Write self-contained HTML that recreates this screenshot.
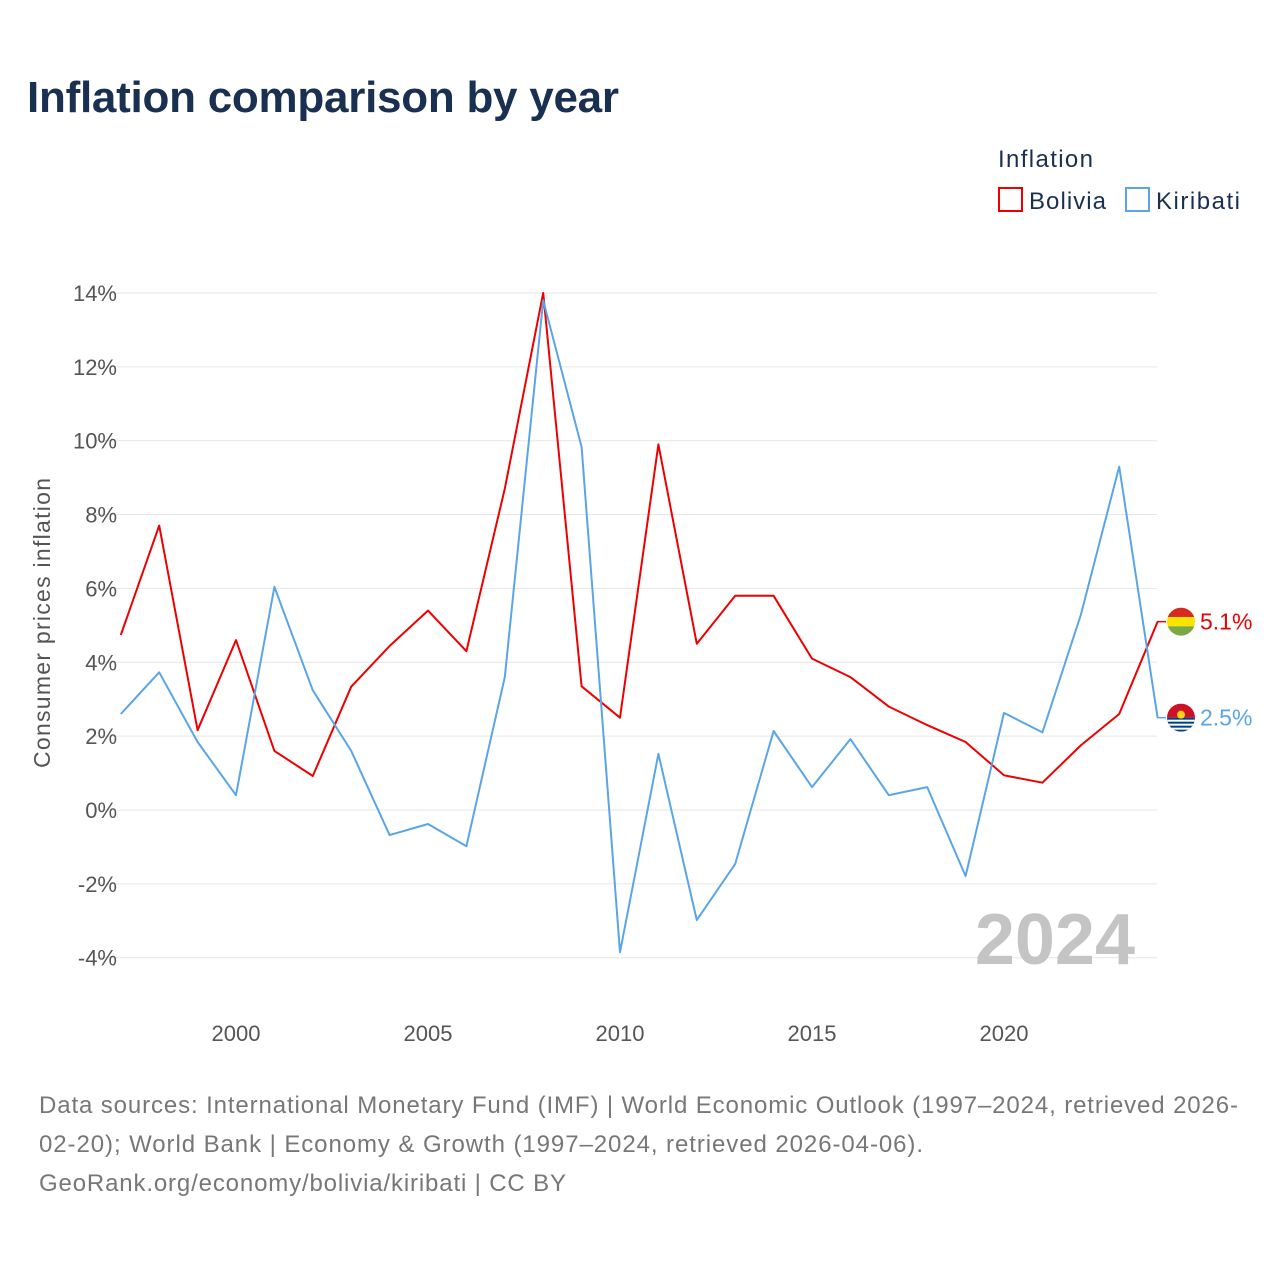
<!DOCTYPE html>
<html><head><meta charset="utf-8"><style>
body{margin:0;background:#fff;font-family:"Liberation Sans",sans-serif;}
</style></head><body>
<svg id="chart" width="1280" height="1280" xmlns="http://www.w3.org/2000/svg">
<text x="27" y="112" font-size="44" font-weight="bold" fill="#1a3050" textLength="592">Inflation comparison by year</text>
<g>
<text x="998" y="167" font-size="24" fill="#1a3050" textLength="95">Inflation</text>
<g><rect x="999" y="188" width="23" height="23" fill="none" stroke="#ee0000" stroke-width="2"/><text x="1029" y="209" font-size="24" fill="#1a3050" textLength="77">Bolivia</text></g>
<g><rect x="1126" y="188" width="23" height="23" fill="none" stroke="#5aa5e8" stroke-width="2"/><text x="1156" y="209" font-size="24" fill="#1a3050" textLength="84">Kiribati</text></g>
</g>
<g id="grid"></g>
<g id="yticks"></g>
<g id="xticks"></g>
<text transform="translate(50,623) rotate(-90)" text-anchor="middle" font-size="23" fill="#555" textLength="290">Consumer prices inflation</text>
<text x="1135" y="964" text-anchor="end" font-size="72" font-weight="bold" fill="#c4c4c4">2024</text>
<g id="series"></g>
<g font-size="24" fill="#777">
<text x="39" y="1113" textLength="1199">Data sources: International Monetary Fund (IMF) | World Economic Outlook (1997–2024, retrieved 2026-</text>
<text x="39" y="1152" textLength="884">02-20); World Bank | Economy &amp; Growth (1997–2024, retrieved 2026-04-06).</text>
<text x="39" y="1191" textLength="527">GeoRank.org/economy/bolivia/kiribati | CC BY</text>
</g>
</svg>
<script>
const years=[1997,1998,1999,2000,2001,2002,2003,2004,2005,2006,2007,2008,2009,2010,2011,2012,2013,2014,2015,2016,2017,2018,2019,2020,2021,2022,2023,2024];
const bolivia=[4.74,7.7,2.16,4.6,1.6,0.92,3.34,4.44,5.4,4.3,8.7,14.0,3.35,2.5,9.9,4.5,5.8,5.8,4.1,3.6,2.8,2.3,1.84,0.94,0.74,1.75,2.6,5.1];
const kiribati=[2.6,3.73,1.84,0.4,6.04,3.24,1.6,-0.68,-0.38,-0.98,3.6,13.8,9.83,-3.85,1.52,-2.98,-1.46,2.14,0.62,1.92,0.4,0.62,-1.79,2.63,2.1,5.28,9.3,2.5];
const yTicks=[14,12,10,8,6,4,2,0,-2,-4];
const xTicks=[2000,2005,2010,2015,2020];
const NS="http://www.w3.org/2000/svg";
const X=y=>120.8+(y-1997)*38.4;
const Y=v=>810-v*36.93;
function mk(t,a,p){const e=document.createElementNS(NS,t);for(const k in a)e.setAttribute(k,a[k]);p.appendChild(e);return e;}
const grid=document.getElementById('grid'),yt=document.getElementById('yticks'),xt=document.getElementById('xticks'),ser=document.getElementById('series');
yTicks.forEach(v=>{
 const l=mk('line',{x1:95,x2:1157,y1:Y(v),y2:Y(v),stroke:'#e6e6e6','stroke-width':1},grid);
 
 
 const t=mk('text',{x:117,y:Y(v)+8,'text-anchor':'end','font-size':22,fill:'#555'},yt);
 t.textContent=v+'%';
 
 
});
xTicks.forEach(v=>{
 const t=mk('text',{x:X(v),y:1041,'text-anchor':'middle','font-size':22,fill:'#555'},xt);
 t.textContent=v;
 
 
});
function line(vals,color,name,label){
 const d=vals.map((v,i)=>(i?'L':'M')+X(years[i]).toFixed(1)+','+Y(v).toFixed(1)).join('');
 const p=mk('path',{d:d,fill:'none',stroke:color,'stroke-width':2,'stroke-linejoin':'round'},ser);
 
 
 const last=vals[vals.length-1],ly=Y(last);
 mk('line',{x1:1157,x2:1166,y1:ly,y2:ly,stroke:color,'stroke-width':1.5},ser);
 const t=mk('text',{x:1200,y:ly+8,'font-size':23,fill:color},ser);
 t.textContent=label(last);
 
 
 return ly;
}
const by=line(bolivia,'#ee0000','bolivia',v=>v.toFixed(1)+'%');
const ky=line(kiribati,'#5aa5e8','kiribati',v=>v.toFixed(1)+'%');
const fb=mk('g',{},ser);


mk('clipPath',{id:'cb'},fb).appendChild(document.createElementNS(NS,'circle'));
const cb=fb.querySelector('#cb circle');cb.setAttribute('cx',1181);cb.setAttribute('cy',by);cb.setAttribute('r',14);
mk('rect',{x:1167,y:by-14,width:28,height:10,fill:'#d52b1e','clip-path':'url(#cb)'},fb);
mk('rect',{x:1167,y:by-4.7,width:28,height:9.4,fill:'#f9e300','clip-path':'url(#cb)'},fb);
mk('rect',{x:1167,y:by+4.7,width:28,height:10,fill:'#79a845','clip-path':'url(#cb)'},fb);
const fk=mk('g',{},ser);


mk('clipPath',{id:'ck'},fk).appendChild(document.createElementNS(NS,'circle'));
const ck=fk.querySelector('#ck circle');ck.setAttribute('cx',1181);ck.setAttribute('cy',ky);ck.setAttribute('r',14);
mk('rect',{x:1167,y:ky-14,width:28,height:14,fill:'#ce1126','clip-path':'url(#ck)'},fk);
mk('rect',{x:1167,y:ky,width:28,height:14,fill:'#003f87','clip-path':'url(#ck)'},fk);
[2,6,10].forEach(o=>mk('rect',{x:1167,y:ky+o,width:28,height:2,fill:'#fff','clip-path':'url(#ck)'},fk));
mk('circle',{cx:1181,cy:ky-3,r:4,fill:'#fcd116'},fk);
</script>
</body></html>
